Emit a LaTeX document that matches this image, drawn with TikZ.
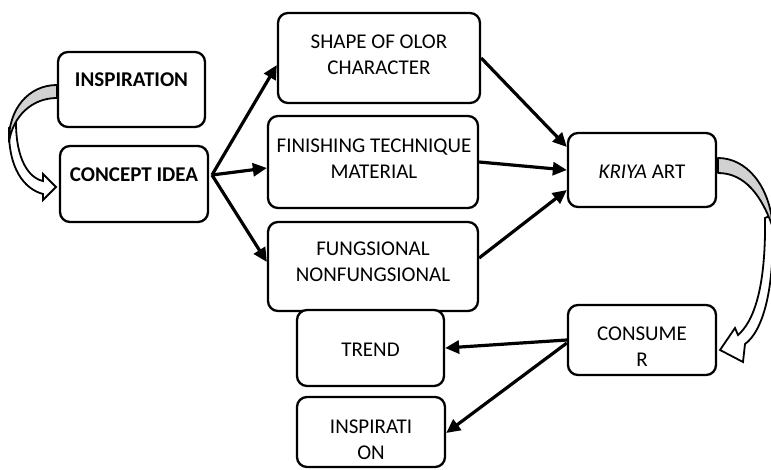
\documentclass[tikz,border=0pt]{standalone}
\usepackage{fontspec}
\setmainfont{Carlito}
\usetikzlibrary{arrows.meta}
\tikzset{
  box/.style={draw=black, line width=2.3pt, rounded corners=10pt, fill=white, inner sep=0pt},
  lbl/.style={font=\fontsize{21}{26}\selectfont, align=center, inner sep=0pt},
  arr/.style={line width=3.2pt, -{Triangle[length=14pt,width=13pt]}},
  greyband/.style={fill=black!18, draw=black, line width=1.8pt, line join=round},
  whiteband/.style={fill=white, draw=black, line width=1.8pt, line join=miter},
}
\begin{document}
\begin{tikzpicture}[x=1pt,y=-1pt]
\useasboundingbox (0,0) rectangle (771,470);
\clip (0,0) rectangle (771,470);
% boxes
\node[box, minimum width=147pt, minimum height=75pt] (insp1) at (131.5,89.5) {};
\node[box, minimum width=148pt, minimum height=76pt] (concept) at (134,184) {};
\node[box, minimum width=202pt, minimum height=90pt] (shape) at (379,58) {};
\node[box, minimum width=210pt, minimum height=92pt] (finish) at (373,162) {};
\node[box, minimum width=210pt, minimum height=89pt] (fung) at (373,266.5) {};
\node[box, minimum width=148pt, minimum height=74pt] (kriya) at (642,170) {};
\node[box, minimum width=148pt, minimum height=70pt] (consumer) at (642,340) {};
\node[box, minimum width=147pt, minimum height=76pt] (trend) at (370.5,348) {};
\node[box, minimum width=148pt, minimum height=70pt] (insp2) at (371,432) {};
% labels
\node[lbl] (insp1T) at (131.5,80) {\bfseries INSPIRATION};
\node[lbl] (conceptT) at (134,175) {\bfseries CONCEPT IDEA};
\node[lbl] (shapeT) at (379,55) {SHAPE OF OLOR\\CHARACTER};
\node[lbl] (finishT) at (374,158.5) {FINISHING TECHNIQUE\\MATERIAL};
\node[lbl] (fungT) at (373,261.5) {FUNGSIONAL\\NONFUNGSIONAL};
\node[lbl] (kriyaT) at (642,172) {\itshape KRIYA\upshape{} ART};
\node[lbl] (consumerT) at (642,347) {CONSUME\\R};
\node[lbl] (trendT) at (370.5,350) {TREND};
\node[lbl] (insp2T) at (371,439.5) {INSPIRATI\\ON};
% connectors
\coordinate (hub) at (212,175);
\draw[arr] (hub) -- ([yshift=-7pt]shape.west);
\draw[arr] (hub) -- ([yshift=-6pt]finish.west);
\draw[arr] (hub) -- ([yshift=4.5pt]fung.west);
\draw[arr] (shape.east) -- ([yshift=23pt]kriya.west);
\draw[arr] (finish.east) -- (kriya.west);
\draw[arr] ([yshift=8.5pt]fung.east) -- ([yshift=-20pt]kriya.west);
\draw[arr] (consumer.west) -- (trend.east);
\draw[arr] ([yshift=-3pt]consumer.west) -- ([yshift=-1pt]insp2.east);
% left curved block arrow
\draw[whiteband] (9,128) .. controls (8,168) and (24,189) .. (43,194)
  -- (43,200) -- (56,187) -- (43,174) -- (43,181)
  .. controls (29,178) and (16,160) .. (16,122) -- cycle;
\draw[greyband] (57,85) .. controls (28,85) and (8,110) .. (9,142)
  .. controls (13,116) and (32,98) .. (57,98) -- cycle;
% right curved block arrow
\draw[whiteband] (772,215) .. controls (776,290) and (762,332) .. (745,344)
  -- (743,362) -- (720,350) -- (735,328) -- (738,335)
  .. controls (753,322) and (766,290) .. (765,218) -- cycle;
\draw[greyband] (718,158) .. controls (746,158) and (770,185) .. (773,228)
  .. controls (762,196) and (745,173) .. (718,173) -- cycle;
\end{tikzpicture}
\end{document}
